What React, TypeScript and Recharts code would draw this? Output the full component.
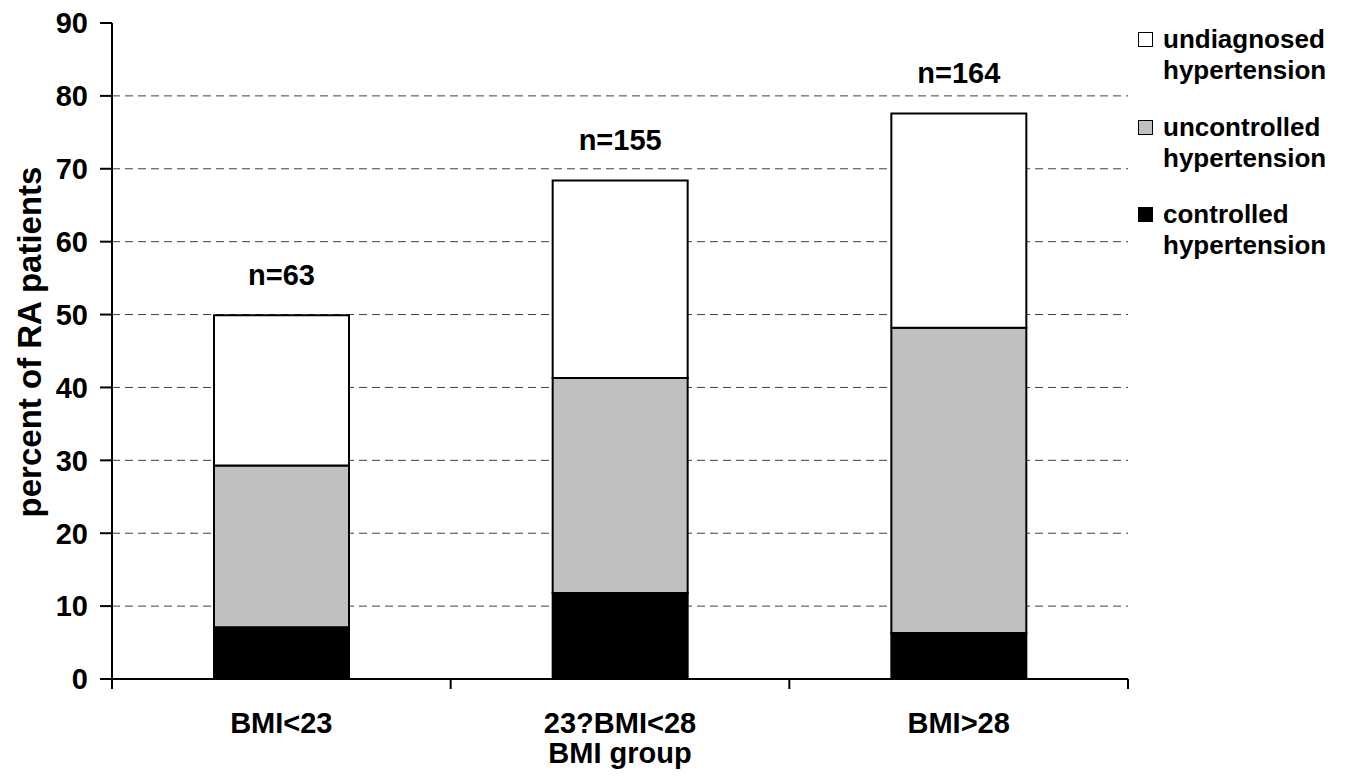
import { BarChart, Bar, XAxis, YAxis, CartesianGrid, Legend, LabelList } from "recharts";

const FONT = '"Liberation Sans", Arial, sans-serif';

const categories = ["BMI<23", "23?BMI<28", "BMI>28"];
const controlled = [7.1, 11.8, 6.3];
const uncontrolled = [22.2, 29.5, 41.9];
const undiagnosed = [20.6, 27.1, 29.4];
const groupSizes = ["n=63", "n=155", "n=164"];

const yTicks = [0, 10, 20, 30, 40, 50, 60, 70, 80, 90];
const gridValues = [10, 20, 30, 40, 50, 60, 70, 80];

const data = categories.map((c, i) => ({
  group: c,
  controlled: controlled[i],
  uncontrolled: uncontrolled[i],
  undiagnosed: undiagnosed[i],
  n: groupSizes[i],
}));

function CategoryTick(props: any) {
  const { x, y, payload, index } = props;
  const half = payload?.offset || 169.33;
  return (
    <g>
      <line x1={x - half} x2={x - half} y1={y} y2={y + 10} stroke="#000" strokeWidth={2} />
      {index === categories.length - 1 && (
        <line x1={x + half} x2={x + half} y1={y} y2={y + 10} stroke="#000" strokeWidth={2} />
      )}
      <text x={x} y={y + 54} textAnchor="middle" fontSize={29} fontWeight={700} fontFamily={FONT} fill="#000">
        {payload.value}
      </text>
    </g>
  );
}

function SizeLabel(props: any) {
  const { x, y, width, value } = props;
  return (
    <text x={x + width / 2} y={y - 30} textAnchor="middle" fontSize={29} fontWeight={700} fontFamily={FONT} fill="#000">
      {value}
    </text>
  );
}

function renderLegend(props: any) {
  // legend lists the stack top-down
  const items = [...(props.payload || [])].reverse();
  return (
    <div style={{ fontFamily: FONT, fontWeight: 700, fontSize: 26, color: "#000" }}>
      {items.map((entry: any, i: number) => {
        const words = String(entry.value).split(" ");
        return (
          <div key={i} style={{ position: "relative", height: 62, marginBottom: 25.5, lineHeight: "31px", paddingLeft: 33 }}>
            <div
              style={{
                position: "absolute",
                left: 8,
                top: 8,
                width: 13,
                height: 13,
                background: entry.color,
                border: "1.5px solid #000",
              }}
            />
            <div>{words[0]}</div>
            <div>{words.slice(1).join(" ")}</div>
          </div>
        );
      })}
    </div>
  );
}

export default function App() {
  return (
    <div style={{ position: "absolute", left: 0, top: 0, width: 1348, height: 778, background: "#fff" }}>
      <BarChart width={1348} height={778} data={data} margin={{ top: 23, right: 220, bottom: 0, left: 0 }}>
        <CartesianGrid
          vertical={false}
          horizontalValues={gridValues}
          stroke="#404040"
          strokeDasharray="8 5"
        />
        <XAxis
          dataKey="group"
          height={99}
          axisLine={{ stroke: "#000", strokeWidth: 2 }}
          tickLine={false}
          tickSize={0}
          tickMargin={0}
          interval={0}
          tick={<CategoryTick />}
          label={{
            content: (p: any) => {
              const vb = p.viewBox || { x: 112, y: 679, width: 1016, height: 99 };
              return (
                <text
                  x={vb.x + vb.width / 2}
                  y={vb.y + 84}
                  textAnchor="middle"
                  fontSize={29}
                  fontWeight={700}
                  fontFamily={FONT}
                  fill="#000"
                >
                  BMI group
                </text>
              );
            },
          }}
        />
        <YAxis
          type="number"
          domain={[0, 90]}
          ticks={yTicks}
          interval={0}
          width={112}
          axisLine={{ stroke: "#000", strokeWidth: 2 }}
          tickLine={{ stroke: "#000", strokeWidth: 2 }}
          tickSize={12}
          tickMargin={12}
          tick={{ fontSize: 29, fontWeight: 700, fontFamily: FONT, fill: "#000" }}
          label={{
            content: (p: any) => {
              const vb = p.viewBox || { x: 0, y: 23, width: 112, height: 656 };
              const cy = vb.y + vb.height / 2 - 9;
              return (
                <text
                  x={29}
                  y={cy}
                  transform={`rotate(-90, 29, ${cy})`}
                  textAnchor="middle"
                  dominantBaseline="central"
                  fontSize={33}
                  fontWeight={700}
                  fontFamily={FONT}
                  fill="#000"
                >
                  percent of RA patients
                </text>
              );
            },
          }}
        />
        <Legend
          layout="vertical"
          align="center"
          verticalAlign="middle"
          content={renderLegend}
          wrapperStyle={{ position: "absolute", left: 1130, top: 24, width: 218 }}
        />
        <Bar dataKey="controlled" name="controlled hypertension" stackId="a" fill="#000000" stroke="#000" strokeWidth={2} barSize={135} isAnimationActive={false} />
        <Bar dataKey="uncontrolled" name="uncontrolled hypertension" stackId="a" fill="#c0c0c0" stroke="#000" strokeWidth={2} barSize={135} isAnimationActive={false} />
        <Bar dataKey="undiagnosed" name="undiagnosed hypertension" stackId="a" fill="#ffffff" stroke="#000" strokeWidth={2} barSize={135} isAnimationActive={false}>
          <LabelList dataKey="n" content={<SizeLabel />} />
        </Bar>
      </BarChart>
    </div>
  );
}
